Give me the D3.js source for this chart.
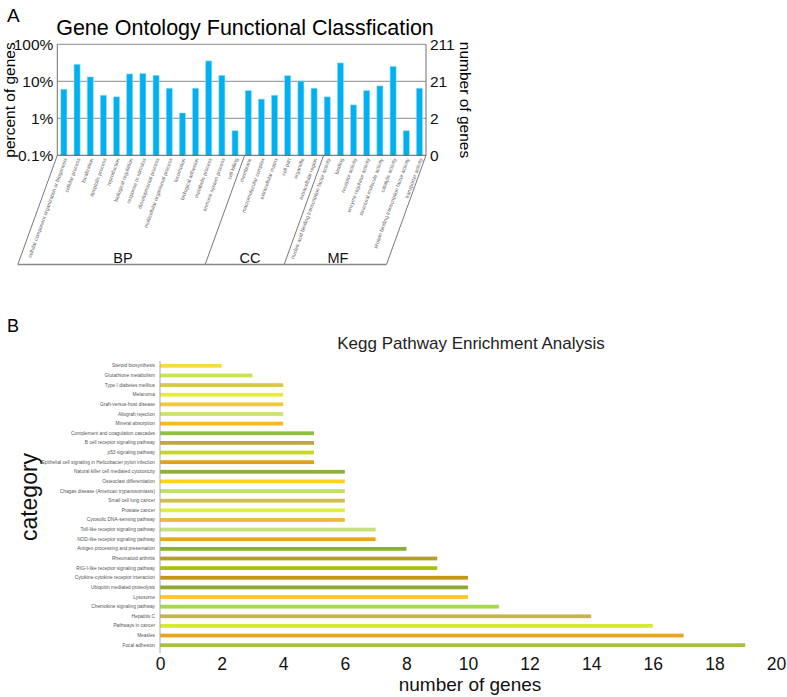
<!DOCTYPE html>
<html>
<head>
<meta charset="utf-8">
<script src="https://cdn.jsdelivr.net/npm/d3@7"></script>
<style>
  body { margin: 0; background: #fff; }
  svg { display: block; font-family: "Liberation Sans", Arial, sans-serif; }
</style>
</head>
<body>
<svg id="chart" width="787" height="697"></svg>
<script>
// ---------- Panel A data ----------
const goTerms = [
  "cellular component organization or biogenesis", "cellular process", "localization",
  "apoptotic process", "reproduction", "biological regulation", "response to stimulus",
  "developmental process", "multicellular organismal process", "locomotion",
  "biological adhesion", "metabolic process", "immune system process", "cell killing",
  "membrane", "macromolecular complex", "extracellular matrix", "cell part", "organelle",
  "extracellular region",
  "nucleic acid binding transcription factor activity", "binding", "receptor activity",
  "enzyme regulator activity", "structural molecule activity", "catalytic activity",
  "protein binding transcription factor activity", "transporter activity"
];
const goPercent = [6.1, 28.8, 13.1, 4.2, 3.8, 15.8, 16.1, 14.5, 6.5, 1.39, 6.5, 35.5, 14.5, 0.46,
                   5.6, 3.3, 4.2, 14.2, 10.2, 6.5,
                   3.8, 31.3, 2.3, 5.6, 7.5, 25.4, 0.46, 6.5];
const goGroups = ["BP", "CC", "MF"];
const goGroupSizes = [14, 6, 8];
const goLeftTicks = [0.1, 1, 10, 100];
const goLeftTickLabels = ["0.1%", "1%", "10%", "100%"];
const goRightTickLabels = ["0", "2", "21", "211"];

// ---------- Panel B data ----------
const keggPathways = [
  "Steroid biosynthesis", "Glutathione metabolism", "Type I diabetes mellitus", "Melanoma",
  "Graft-versus-host disease", "Allograft rejection", "Mineral absorption",
  "Complement and coagulation cascades", "B cell receptor signaling pathway",
  "p53 signaling pathway", "Epithelial cell signaling in Helicobacter pylori infection",
  "Natural killer cell mediated cytotoxicity", "Osteoclast differentiation",
  "Chagas disease (American trypanosomiasis)", "Small cell lung cancer", "Prostate cancer",
  "Cytosolic DNA-sensing pathway", "Toll-like receptor signaling pathway",
  "NOD-like receptor signaling pathway", "Antigen processing and presentation",
  "Rheumatoid arthritis", "RIG-I-like receptor signaling pathway",
  "Cytokine-cytokine receptor interaction", "Ubiquitin mediated proteolysis", "Lysosome",
  "Chemokine signaling pathway", "Hepatitis C", "Pathways in cancer", "Measles", "Focal adhesion"
];
const keggCounts = [2, 3, 4, 4, 4, 4, 4, 5, 5, 5, 5, 6, 6, 6, 6, 6, 6, 7, 7, 8, 9, 9, 10, 10, 10, 11, 14, 16, 17, 19];
const keggColors = [
  "#f7dc3a", "#c9e25a", "#d6c84e", "#e6ec3c", "#f0c83e", "#cfe070", "#ffb81e",
  "#8fc13e", "#bfa63e", "#c6d81e", "#dea01e",
  "#8fae3e", "#ffd21e", "#bfe25e", "#cfbe50", "#def03e",
  "#f0b83e", "#c6e07e", "#e8a61a", "#88b038",
  "#b69e2e", "#aec00e", "#c6961a", "#8fa830", "#ffc826",
  "#a6d84e", "#c6b64a", "#d6ea2e", "#e8a620", "#a6c03e"
];
const keggTicks = [0, 2, 4, 6, 8, 10, 12, 14, 16, 18, 20];

const svg = d3.select("#chart");

// ================= PANEL A =================
const A = { left: 57.3, right: 426, top: 44.3, bottom: 155.3 };
const gA = svg.append("g");

gA.append("text").attr("x", 7).attr("y", 22).attr("font-size", 19).text("A");
gA.append("text").attr("x", 245).attr("y", 35).attr("text-anchor", "middle")
  .attr("font-size", 21.5).text("Gene Ontology Functional Classfication");

const xA = d3.scaleBand().domain(goTerms).range([A.left, A.right]).paddingInner(0.54).paddingOuter(0.27);
const yA = d3.scaleLog().domain([0.1, 100]).range([A.bottom, A.top]);

// gridlines at 10% and 1%, top frame
gA.append("g").selectAll("line").data([1, 10, 100]).join("line")
  .attr("x1", A.left).attr("x2", A.right)
  .attr("y1", d => yA(d)).attr("y2", d => yA(d))
  .attr("stroke", "#8a8a8a").attr("stroke-width", 1);

// bars
gA.append("g").selectAll("rect").data(goTerms).join("rect")
  .attr("x", d => xA(d))
  .attr("width", xA.bandwidth())
  .attr("y", (d, i) => yA(goPercent[i]))
  .attr("height", (d, i) => A.bottom - yA(goPercent[i]))
  .attr("fill", "#00b0f0")
  .attr("stroke", "#8fdcf8").attr("stroke-width", 0.6);

// axes frame
gA.append("line").attr("x1", A.left).attr("x2", A.left).attr("y1", A.top).attr("y2", A.bottom)
  .attr("stroke", "#707070");
gA.append("line").attr("x1", A.right).attr("x2", A.right).attr("y1", A.top).attr("y2", A.bottom)
  .attr("stroke", "#707070");
gA.append("line").attr("x1", A.left).attr("x2", A.right).attr("y1", A.bottom).attr("y2", A.bottom)
  .attr("stroke", "#606060");

// left tick labels
const leftAxis = d3.axisLeft(yA).tickValues(goLeftTicks).tickSize(0).tickPadding(4)
  .tickFormat((d, i) => goLeftTickLabels[i]);
const gl = gA.append("g").attr("transform", `translate(${A.left},0)`).call(leftAxis);
gl.select(".domain").remove();
gl.selectAll("text").attr("font-size", 15.5).attr("fill", "#111")
  .attr("font-family", "Liberation Sans, Arial, sans-serif");

const rightAxis = d3.axisRight(yA).tickValues(goLeftTicks).tickSize(0).tickPadding(4)
  .tickFormat((d, i) => goRightTickLabels[i]);
const gr = gA.append("g").attr("transform", `translate(${A.right},0)`).call(rightAxis);
gr.select(".domain").remove();
gr.selectAll("text").attr("font-size", 15.5).attr("fill", "#111")
  .attr("font-family", "Liberation Sans, Arial, sans-serif");

gA.append("text").attr("transform", `translate(15,100) rotate(-90)`).attr("text-anchor", "middle")
  .attr("font-size", 15.5).text("percent of genes");
gA.append("text").attr("transform", `translate(460,100) rotate(90)`).attr("text-anchor", "middle")
  .attr("font-size", 15.5).text("number of genes");

// rotated category labels
const ang = -70;
gA.append("g").selectAll("text").data(goTerms).join("text")
  .attr("transform", d => `translate(${xA(d) + xA.bandwidth() / 2 + 1.5},${A.bottom + 3}) rotate(${ang})`)
  .attr("text-anchor", "end").attr("dy", "0.35em")
  .attr("font-size", 5.2).attr("fill", "#666").text(d => d);

// group separators (slanted)
const slantDx = 39.5, botY = 264.5;
let bounds = [A.left];
let acc = 0;
goGroupSizes.forEach((n, gi) => {
  acc += n;
  if (gi < goGroupSizes.length - 1) {
    const a = goTerms[acc - 1], b = goTerms[acc];
    bounds.push((xA(a) + xA.bandwidth() + xA(b)) / 2 + 3);
  }
});
bounds.push(A.right);
gA.append("g").selectAll("line").data(bounds).join("line")
  .attr("x1", d => d).attr("y1", A.bottom)
  .attr("x2", d => d - slantDx).attr("y2", botY)
  .attr("stroke", "#555").attr("stroke-width", 0.8);
gA.append("line").attr("x1", A.left - slantDx).attr("x2", A.right - slantDx)
  .attr("y1", botY).attr("y2", botY).attr("stroke", "#888").attr("stroke-width", 1.4);
const groupLabelX = [123, 250, 338];
gA.append("g").selectAll("text").data(goGroups).join("text")
  .attr("x", (d, i) => groupLabelX[i]).attr("y", 263).attr("text-anchor", "middle")
  .attr("font-size", 14.5).attr("fill", "#111").text(d => d);

// ================= PANEL B =================
const B = { left: 160, right: 776, top: 361, bottom: 650 };
const gB = svg.append("g");
gB.append("text").attr("x", 7).attr("y", 332).attr("font-size", 18).text("B");
gB.append("text").attr("x", 471).attr("y", 349).attr("text-anchor", "middle")
  .attr("font-size", 17).attr("fill", "#222").text("Kegg Pathway Enrichment Analysis");

const xB = d3.scaleLinear().domain([0, 20]).range([B.left, B.right]);
const yB = d3.scaleBand().domain(keggPathways).range([B.top, B.bottom]);
const barH = 3.8;

gB.append("g").selectAll("rect").data(keggPathways).join("rect")
  .attr("x", xB(0))
  .attr("y", d => yB(d) + yB.bandwidth() / 2 - barH / 2)
  .attr("width", (d, i) => xB(keggCounts[i]) - xB(0))
  .attr("height", barH)
  .attr("fill", (d, i) => keggColors[i]);

// y axis line
gB.append("line").attr("x1", B.left).attr("x2", B.left).attr("y1", B.top).attr("y2", B.bottom + 3)
  .attr("stroke", "#aaa").attr("stroke-width", 1);

// category labels
const yAxisB = d3.axisLeft(yB).tickSize(0).tickPadding(5);
const gyb = gB.append("g").attr("transform", `translate(${B.left},0)`).call(yAxisB);
gyb.select(".domain").remove();
gyb.selectAll("text").attr("font-size", 4.8).attr("fill", "#555")
  .attr("font-family", "Liberation Sans, Arial, sans-serif");

// x tick labels
const xAxisB = d3.axisBottom(xB).tickValues(keggTicks).tickSize(0).tickPadding(6);
const gxb = gB.append("g").attr("transform", `translate(0,${B.bottom + 2})`).call(xAxisB);
gxb.select(".domain").remove();
gxb.selectAll("text").attr("font-size", 17.5).attr("fill", "#111")
  .attr("font-family", "Liberation Sans, Arial, sans-serif");

gB.append("text").attr("x", 470).attr("y", 691).attr("text-anchor", "middle")
  .attr("font-size", 19).attr("fill", "#111").text("number of genes");
gB.append("text").attr("transform", `translate(37,497) rotate(-90)`).attr("text-anchor", "middle")
  .attr("font-size", 23).attr("fill", "#111").text("category");
</script>
</body>
</html>
